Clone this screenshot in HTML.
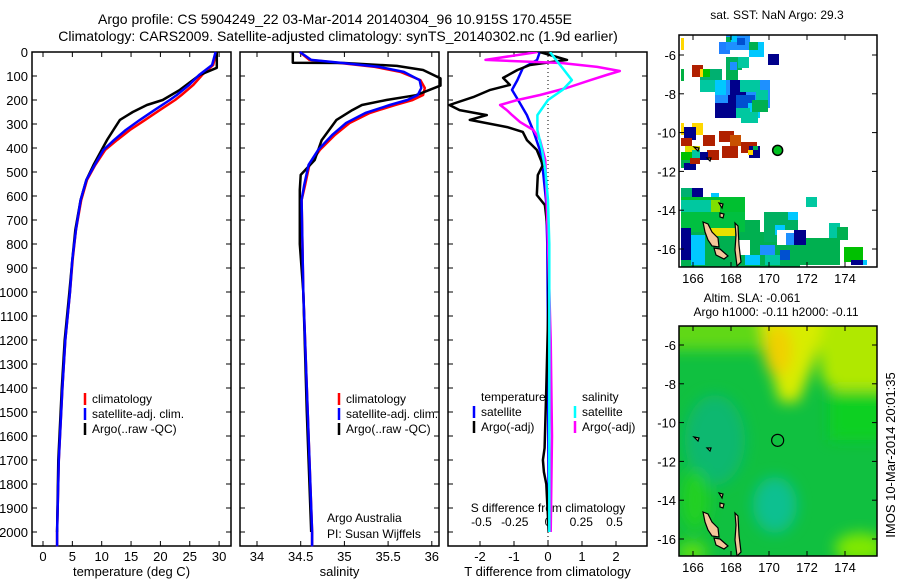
<!DOCTYPE html>
<html><head><meta charset="utf-8"><style>
body{margin:0;background:#fff;}
svg text{font-family:"Liberation Sans",sans-serif;fill:#000;}
</style></head><body>
<svg id="fig" width="900" height="580" viewBox="0 0 900 580" xmlns="http://www.w3.org/2000/svg">
<text x="335" y="24" font-size="14" text-anchor="middle">Argo profile: CS 5904249_22 03-Mar-2014 20140304_96 10.915S 170.455E</text>
<text x="338" y="41" font-size="14" text-anchor="middle">Climatology: CARS2009. Satellite-adjusted climatology: synTS_20140302.nc (1.9d earlier)</text>
<g id="p1"></g>
<g id="p2"></g>
<g id="p3"></g>
<g id="m1"></g>
<g id="m2"></g>
<text x="0" y="0" font-size="13" transform="translate(895,455) rotate(-90)" text-anchor="middle">IMOS 10-Mar-2014 20:01:35</text>
</svg>
<script>
// ---- data ----
const tDepth = [0,54,96,137,179,200,242,283,325,367,408,471,533,617,742,867,1000,1200,1400,1700,2000,2060];
const tClim  = [29.5,29.0,27.1,25.6,23.6,22.5,19.9,17.4,14.8,12.6,10.6,8.9,7.5,6.5,5.6,5.05,4.6,3.8,3.3,2.7,2.4,2.4];
const tSat   = [29.4,28.8,26.6,24.9,22.8,21.6,19.0,16.5,14.1,12.1,10.3,8.8,7.4,6.4,5.6,5.0,4.6,3.8,3.3,2.7,2.4,2.4];
const tArgoDepth = [0,66,96,158,200,221,250,283,325,367,408,471,533,617,742,867,1000,1200,1400,1700,2000];
const tArgo  = [29.6,29.6,26.7,23.3,20.4,17.7,15.3,13.1,12.0,10.9,10.0,8.6,7.4,6.4,5.5,5.0,4.5,3.7,3.2,2.6,2.4];
const sDepth = [0,33,46,62,83,117,150,179,200,221,254,296,346,408,470,554,617,1000,1500,2000,2060];
const sClim  = [34.49,34.6,34.95,35.35,35.64,35.87,35.92,35.9,35.78,35.58,35.29,35.06,34.89,34.72,34.6,34.55,34.51,34.53,34.58,34.63,34.63];
const sSat   = [34.49,34.62,34.98,35.4,35.68,35.86,35.88,35.84,35.72,35.52,35.24,35.02,34.86,34.7,34.59,34.54,34.51,34.53,34.58,34.63,34.63];
const sArgoDepth = [0,45,46,58,75,110,140,180,200,221,242,283,367,450,512,575,800,1000,1500,2000];
const sArgo  = [34.41,34.41,35.0,35.6,35.9,36.1,36.1,35.82,35.48,35.2,35.09,34.91,34.74,34.66,34.5,34.49,34.49,34.53,34.57,34.62];
const dDepth = [0,33,67,117,158,200,263,325,408,492,617,800,1200,1600,2000];
const dTSat  = [-0.24,-0.32,-0.74,-0.9,-1.06,-0.88,-0.62,-0.44,-0.24,-0.15,-0.06,-0.02,0,0.01,0.02];
const dTArgoDepth = [0,21,33,54,75,108,137,158,188,221,242,263,283,313,333,367,408,471,513,596,638,750,1000,1400,1650,1700,1750,1800,2000];
const dTArgo = [-0.24,0.26,0.56,-0.53,-0.9,-1.32,-1.12,-1.7,-2.2,-2.9,-2.6,-1.8,-2.3,-1.2,-0.74,-0.62,-0.33,-0.15,-0.3,-0.33,-0.09,0,0.02,-0.05,-0.1,-0.15,-0.12,-0.05,0.02];
const dSSat  = [0.015,0.06,0.11,0.18,0.11,0,-0.08,-0.08,-0.045,-0.02,0,0.01,0.01,0.01,0.01];
const dSArgoDepth = [0,33,46,62,79,96,117,150,179,200,221,242,263,292,325,367,450,800,1200,1600,2000];
const dSArgo = [-0.08,-0.47,0.1,0.37,0.54,0.44,0.32,0.14,-0.06,-0.23,-0.36,-0.31,-0.27,-0.21,-0.11,-0.06,-0.02,0,0.02,0.03,0.02];
const tTicks = [0,5,10,15,20,25,30];
const sTicks = [34,34.5,35,35.5,36];
const dTTicks = [-2,-1,0,1,2];
const dSTickLabels = ["-0.5","-0.25","0","0.25","0.5"];
const dSTickVals = [-0.5,-0.25,0,0.25,0.5];
const depthTicks = [0,100,200,300,400,500,600,700,800,900,1000,1100,1200,1300,1400,1500,1600,1700,1800,1900,2000];

const NS='http://www.w3.org/2000/svg';
function mk(parent,tag,attrs){const e=document.createElementNS(NS,tag);for(const k in attrs)e.setAttribute(k,attrs[k]);parent.appendChild(e);return e;}
const TOP=52, BOT=546;
const yD = d => TOP + d*0.24;

function panel(g,x0,x1,xs,ticks,labels,xlabel,leftLabels){
  const r=mk(g,'rect',{x:x0,y:TOP,width:x1-x0,height:BOT-TOP,fill:'none',stroke:'#000','stroke-width':1.5});
  
  
  depthTicks.forEach(d=>{
    mk(g,'line',{x1:x0,x2:x0+5,y1:yD(d),y2:yD(d),stroke:'#000'});
    mk(g,'line',{x1:x1,x2:x1-5,y1:yD(d),y2:yD(d),stroke:'#000'});
    if(leftLabels){const t=mk(g,'text',{x:x0-4,y:yD(d)+5,'font-size':13,'text-anchor':'end'});t.textContent=d;
      
      }
  });
  ticks.forEach((v,i)=>{
    mk(g,'line',{x1:xs(v),x2:xs(v),y1:BOT,y2:BOT-5,stroke:'#000'});
    mk(g,'line',{x1:xs(v),x2:xs(v),y1:TOP,y2:TOP+5,stroke:'#000'});
    const t=mk(g,'text',{x:xs(v),y:BOT+15,'font-size':13,'text-anchor':'middle'});t.textContent=labels[i];
    
    
  });
  const xl=mk(g,'text',{x:(x0+x1)/2,y:576,'font-size':13,'text-anchor':'middle'});xl.textContent=xlabel;
  
  
}
function line(g,depths,vals,xs,color,name,w){
  const pts=depths.map((d,i)=>xs(vals[i]).toFixed(1)+','+yD(d).toFixed(1)).join(' ');
  const p=mk(g,'polyline',{points:pts,fill:'none',stroke:color,'stroke-width':w||2.5,'stroke-linejoin':'round'});
  
  
}
function legend(g,x,y,items){
  items.forEach((it,i)=>{
    mk(g,'line',{x1:x,x2:x,y1:y+i*15-10,y2:y+i*15+2,stroke:it[1],'stroke-width':2.5});
    const t=mk(g,'text',{x:x+7,y:y+i*15,'font-size':12});t.textContent=it[0];
    
    
  });
}
// panel 1
const p1=document.getElementById('p1');
const xT=v=>43+v*5.87;
panel(p1,32,231,xT,tTicks,tTicks.map(String),'temperature (deg C)',true);
line(p1,tDepth,tClim,xT,'#f00','temp-climatology-line');
line(p1,tArgoDepth,tArgo,xT,'#000','temp-argo-line');
line(p1,tDepth,tSat,xT,'#00f','temp-satellite-line');
legend(p1,85,403,[['climatology','#f00'],['satellite-adj. clim.','#00f'],['Argo(..raw -QC)','#000']]);
// panel 2
const p2=document.getElementById('p2');
const xS=v=>257+(v-34)*87.4;
panel(p2,240,439,xS,sTicks,sTicks.map(String),'salinity',false);
line(p2,sDepth,sClim,xS,'#f00','sal-climatology-line');
line(p2,sArgoDepth,sArgo,xS,'#000','sal-argo-line');
line(p2,sDepth,sSat,xS,'#00f','sal-satellite-line');
legend(p2,339,403,[['climatology','#f00'],['satellite-adj. clim.','#00f'],['Argo(..raw -QC)','#000']]);
let t=mk(p2,'text',{x:327,y:522,'font-size':12});t.textContent='Argo Australia';
t=mk(p2,'text',{x:327,y:538,'font-size':12});t.textContent='PI: Susan Wijffels';
// panel 3
const p3=document.getElementById('p3');
const xDT=v=>548+v*34, xDS=v=>548+v*133;
panel(p3,448,647,xDT,dTTicks,dTTicks.map(String),'T difference from climatology',false);
mk(p3,'line',{x1:548,x2:548,y1:TOP,y2:BOT,stroke:'#000','stroke-dasharray':'1,3'});
dSTickVals.forEach((v,i)=>{const tt=mk(p3,'text',{x:xDS(v),y:526,'font-size':12,'text-anchor':'middle'});tt.textContent=dSTickLabels[i];
  
  });
t=mk(p3,'text',{x:548,y:512,'font-size':12,'text-anchor':'middle'});t.textContent='S difference from climatology';
const cp=mk(p3,'clipPath',{id:'c3'});mk(cp,'rect',{x:448,y:TOP,width:199,height:BOT-TOP});
const g3=mk(p3,'g',{'clip-path':'url(#c3)'});
line(g3,dDepth,dTSat,xDT,'#00f','tdiff-satellite-line');
line(g3,dTArgoDepth,dTArgo,xDT,'#000','tdiff-argo-line');
line(g3,dSArgoDepth,dSArgo,xDS,'#f0f','sdiff-argo-line');
line(g3,dDepth,dSSat,xDS,'#0ff','sdiff-satellite-line');
t=mk(p3,'text',{x:481,y:401,'font-size':12});t.textContent='temperature';
t=mk(p3,'text',{x:582,y:401,'font-size':12});t.textContent='salinity';
legend(p3,474,416,[['satellite','#00f'],['Argo(-adj)','#000']]);
legend(p3,575,416,[['satellite','#0ff'],['Argo(-adj)','#f0f']]);

// ---- maps ----
const LX=v=>693+(v-166)*19;
function mapAxes(g,top,bot,lat6,lonLabY){
  const ly=v=>lat6+(-6-v)*19.4;
  mk(g,'rect',{x:679,y:top,width:198,height:bot-top,fill:'none',stroke:'#000','stroke-width':1.5});
  [-6,-8,-10,-12,-14,-16].forEach(v=>{
    mk(g,'line',{x1:679,x2:684,y1:ly(v),y2:ly(v),stroke:'#000'});
    mk(g,'line',{x1:877,x2:872,y1:ly(v),y2:ly(v),stroke:'#000'});
    const tt=mk(g,'text',{x:676,y:ly(v)+5,'font-size':13,'text-anchor':'end'});tt.textContent=v;
    
    
  });
  [166,168,170,172,174].forEach(v=>{
    mk(g,'line',{x1:LX(v),x2:LX(v),y1:bot,y2:bot-5,stroke:'#000'});
    mk(g,'line',{x1:LX(v),x2:LX(v),y1:top,y2:top+5,stroke:'#000'});
    const tt=mk(g,'text',{x:LX(v),y:lonLabY,'font-size':13,'text-anchor':'middle'});tt.textContent=v;
    
    
  });
}
function islands(g,dy){
  const shapes=[[[703,222],[708,224],[712,232],[718,238],[719,247],[712,246],[708,240],[705,232]],
    [[714,248],[720,249],[728,256],[724,259],[716,255]],
    [[735,223],[738,226],[739,245],[741,262],[737,266],[735,250],[736,235]],
    [[719,203],[723,204],[722,208]],[[720,213],[724,214],[723,218],[720,217]],
    [[694,147],[699,148],[698,151]],[[707,158],[711,158],[710,161]]];
  shapes.forEach(s=>{const pp=mk(g,'polygon',{points:s.map(p=>p[0]+','+(p[1]+dy)).join(' '),fill:'#f5c69a',stroke:'#000','stroke-width':1.2});
    
    });
}
const m1=document.getElementById('m1');
t=mk(m1,'text',{x:777,y:19,'font-size':12,'text-anchor':'middle'});t.textContent='sat. SST: NaN Argo: 29.3';
const cells=[
 [681,38,684,50,'#ffd700'],[719,42,730,54,'#1e7fff'],[726,35,750,50,'#1e90ff'],[731,35,737,42,'#00c8ff'],[737,38,745,45,'#0050d0'],[726,37,731,42,'#00b050'],
 [749,42,764,57,'#00c8ff'],[749,42,758,50,'#00b050'],[768,54,779,65,'#00008b'],[681,69,684,81,'#00b040'],
 [700,69,722,86,'#00b070'],[692,65,703,77,'#b02000'],[700,69,703,77,'#ffd700'],[703,69,710,77,'#00c000'],[700,80,715,92,'#00c8a0'],
 [726,57,742,70,'#00b060'],[730,62,737,70,'#1e90ff'],[738,57,749,68,'#00c8a0'],[726,70,738,80,'#00b050'],
 [715,80,770,108,'#1e90ff'],[715,80,726,95,'#00c8ff'],[730,80,746,95,'#00008b'],[740,80,760,92,'#00c8a0'],[756,90,768,108,'#00c8a0'],
 [715,103,733,118,'#00008b'],[728,95,748,118,'#00008b'],[736,95,755,108,'#0050d0'],[748,103,760,118,'#00c8ff'],[752,100,768,112,'#00b050'],[736,108,750,118,'#00c8a0'],
 [741,112,758,123,'#00c8a0'],
 [681,123,684,135,'#ffd700'],[692,123,703,135,'#ffd700'],[684,127,696,140,'#00008b'],
 [703,135,715,146,'#b02000'],[719,131,734,142,'#b02000'],[730,135,741,146,'#c85000'],[722,146,738,158,'#b02000'],[741,142,757,153,'#b02000'],[749,146,760,158,'#00008b'],[753,146,758,150,'#00b050'],[748,150,753,155,'#ffd700'],[707,150,719,160,'#b02000'],
 [681,138,692,146,'#b02000'],[685,146,700,152,'#e0e000'],[692,150,700,160,'#00c8a0'],[681,152,692,160,'#00c000'],[700,152,708,160,'#00008b'],
 [681,160,690,168,'#00b050'],[684,163,696,170,'#00008b'],[690,158,700,164,'#b02000'],
 [806,197,817,207,'#00c8a0'],
 [681,188,703,200,'#00b070'],[692,188,703,197,'#00008b'],[711,193,719,200,'#00c8ff'],
 [681,197,745,220,'#00c030'],[695,200,720,212,'#80e000'],[681,200,711,212,'#00c8a0'],
 [681,212,745,232,'#00c040'],[681,232,800,267,'#00b050'],[745,220,760,233,'#00b050'],
 [764,212,798,242,'#00b060'],[788,212,798,220,'#00c8ff'],[775,225,785,235,'#00c8ff'],
 [681,228,691,260,'#00008b'],[691,235,705,265,'#00c8ff'],[711,228,735,236,'#e8e000'],
 [797,238,840,265,'#00b050'],[829,223,840,238,'#00c8a0'],[837,227,848,240,'#00b050'],
 [844,247,863,262,'#00c000'],[851,260,863,265,'#00008b'],[863,260,867,265,'#00c8ff'],
 [760,245,775,255,'#1e90ff'],[745,255,760,265,'#00c8ff'],[780,250,790,260,'#0050d0'],[765,255,780,265,'#00c8a0'],
 [738,240,750,255,'#ffffff'],[777,230,794,245,'#ffffff'],[794,230,806,245,'#00008b'],[786,233,794,245,'#1e90ff']];
const cp1=mk(m1,'clipPath',{id:'cm1'});mk(cp1,'rect',{x:679,y:35,width:198,height:232});
const gm1=mk(m1,'g',{'clip-path':'url(#cm1)'});
cells.forEach(c=>{const rr=mk(gm1,'rect',{x:c[0],y:c[1],width:c[2]-c[0],height:c[3]-c[1],fill:c[4]});
  
  });
islands(gm1,0);
const ly1=v=>55+(-6-v)*19.4;
mk(m1,'circle',{cx:LX(170.455),cy:ly1(-10.915),r:5,fill:'#00c020',stroke:'#000','stroke-width':1.5});
mapAxes(m1,35,267,55,283);

const m2=document.getElementById('m2');
t=mk(m2,'text',{x:752,y:302,'font-size':12,'text-anchor':'middle'});t.textContent='Altim. SLA: -0.061';
t=mk(m2,'text',{x:776,y:316,'font-size':12,'text-anchor':'middle'});t.textContent='Argo h1000: -0.11 h2000: -0.11';
const defs=mk(m2,'defs',{});
const f=mk(defs,'filter',{id:'bl',x:'-50%',y:'-50%',width:'200%',height:'200%'});mk(f,'feGaussianBlur',{stdDeviation:'7'});
const cp2=mk(m2,'clipPath',{id:'cm2'});mk(cp2,'rect',{x:679,y:326,width:198,height:230});
const gm2=mk(m2,'g',{'clip-path':'url(#cm2)'});
mk(gm2,'rect',{x:679,y:326,width:198,height:230,fill:'#10c040'});
const gb=mk(gm2,'g',{filter:'url(#bl)'});
mk(gb,'rect',{x:660,y:300,width:240,height:50,fill:'#60d818'});
mk(gb,'polygon',{points:'815,310 900,310 900,395 840,395 822,380',fill:'#b0e800'});
mk(gb,'polygon',{points:'758,310 825,310 815,360 798,402 780,402 768,360',fill:'#d8ec00'});
mk(gb,'ellipse',{cx:778,cy:350,rx:14,ry:26,fill:'#f0d000'});
mk(gb,'rect',{x:830,y:390,width:60,height:50,fill:'#10d020'});
mk(gb,'ellipse',{cx:715,cy:440,rx:30,ry:45,fill:'#10b870'});
mk(gb,'ellipse',{cx:775,cy:505,rx:22,ry:28,fill:'#10c090'});
mk(gb,'ellipse',{cx:860,cy:548,rx:25,ry:15,fill:'#80e800'});
mk(gb,'ellipse',{cx:692,cy:552,rx:15,ry:10,fill:'#60e010'});
mk(gb,'ellipse',{cx:695,cy:500,rx:14,ry:30,fill:'#20d020'});
islands(gm2,290);
mk(m2,'circle',{cx:LX(170.455),cy:ly1(-10.915)+290,r:6,fill:'none',stroke:'#000','stroke-width':1.2});
mapAxes(m2,326,556,345,572);
</script>
</body></html>
